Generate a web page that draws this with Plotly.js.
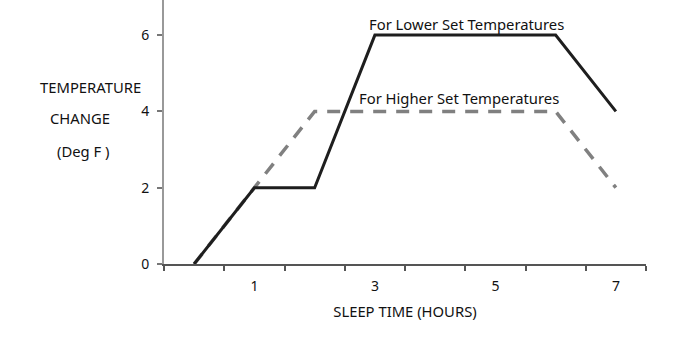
<!DOCTYPE html>
<html><head><meta charset="utf-8">
<script src="https://cdn.plot.ly/plotly-3.0.1.min.js"></script>
<style>body{margin:0;background:#fff}#c{width:674px;height:339px}</style>
</head><body><div id="c"></div>
<script>
const hours = [0, 1, 2, 3, 4, 5, 6, 7];
const lowerSet = [0, 2, 2, 6, 6, 6, 6, 4];
const higherSet = [0, 2, 4, 4, 4, 4, 4, 2];
const xLabels = [1, 3, 5, 7];
const yTicks = [0, 2, 4, 6];
const F = "Noto Sans, sans-serif";
const TC = '#111';
const FS = 14.8;
const traces = [
  {x: hours, y: higherSet, mode: 'lines', line: {color: '#808080', width: 3.5, dash: '13px,10px'}, name: 'For Higher Set Temperatures'},
  {x: hours, y: lowerSet, mode: 'lines', line: {color: '#1e1e1e', width: 3}, name: 'For Lower Set Temperatures'}
];
const layout = {
  width: 674, height: 339,
  margin: {l: 164, r: 28, t: 0, b: 75},
  paper_bgcolor: '#fff', plot_bgcolor: '#fff',
  showlegend: false,
  font: {family: F, size: FS, color: TC},
  xaxis: {range: [-0.5, 7.5], tickvals: xLabels, ticktext: xLabels.map(String), ticks: '', showgrid: false, zeroline: false,
    showline: true, linecolor: '#555', linewidth: 2, ticklabelstandoff: 8,
    tickfont: {family: F, size: 14, color: TC},
    minor: {ticks: 'outside', tick0: -0.5, dtick: 1, ticklen: 5, tickwidth: 2, tickcolor: '#555', showgrid: false},
    title: {text: 'SLEEP TIME (HOURS)', font: {family: F, size: FS, color: TC}, standoff: 13}},
  yaxis: {range: [0, 6.92], tickvals: yTicks, ticks: 'outside', ticklen: 5, tickwidth: 2, tickcolor: '#777', showgrid: false, zeroline: false,
    showline: true, linecolor: '#999', linewidth: 2, ticklabelstandoff: 5,
    tickfont: {family: F, size: 14, color: TC}},
  annotations: [
    {text: 'TEMPERATURE', x: 90, y: 87},
    {text: 'CHANGE', x: 80, y: 118},
    {text: '(Deg F )', x: 83, y: 151},
    {text: 'For Lower Set Temperatures', x: 466, y: 24},
    {text: 'For Higher Set Temperatures', x: 459, y: 98}
  ].map(a => ({text: a.text, xref: 'paper', yref: 'paper', x: (a.x - 164) / 482, y: 1 - a.y / 264,
    xanchor: 'center', yanchor: 'middle', showarrow: false, font: {family: F, size: FS, color: TC}}))
};
Plotly.newPlot('c', traces, layout, {displayModeBar: false, staticPlot: true});
</script></body></html>
